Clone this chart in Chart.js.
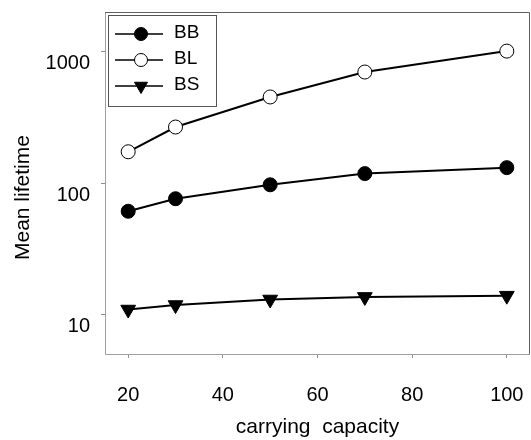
<!DOCTYPE html>
<html>
<head>
<meta charset="utf-8">
<script src="https://cdn.jsdelivr.net/npm/chart.js@4"></script>
<style>
  html, body { margin: 0; padding: 0; background: #fff; overflow: hidden; width: 531px; height: 440px; }
  #wrap { position: relative; width: 531px; height: 440px; overflow: hidden; }
  #chartVida { display: block; }
</style>
</head>
<body>
<div id="wrap"><canvas id="chartVida"></canvas></div>
<script>
// datos
const capacidad = [20, 30, 50, 70, 100];
const vidaBB = [61, 76, 97, 118, 131];
const vidaBL = [173, 267, 452, 700, 1010];
const vidaBS = [10.9, 11.8, 13.0, 13.6, 13.9];
const ticksY = [10, 100, 1000];
const ticksX = [20, 40, 60, 80, 100];

const FUENTE = '"Liberation Sans", Arial, sans-serif';

const series = [
    { label: 'BB', datos: vidaBB, relleno: '#000', estilo: 'circle', radio: 7, rot: 0 },
    { label: 'BL', datos: vidaBL, relleno: '#fff', estilo: 'circle', radio: 7, rot: 0 },
    { label: 'BS', datos: vidaBS, relleno: '#000', estilo: 'triangle', radio: 8.5, rot: 180 }
];

// sin relleno extra para las etiquetas de los extremos
function sinPadding(s) {
    s.paddingTop = 0; s.paddingBottom = 0; s.paddingLeft = 0; s.paddingRight = 0;
}

// marco del area de trazado
const marco = {
    id: 'marco',
    afterDraw(chart) {
        const { ctx, chartArea: a } = chart;
        ctx.save();
        ctx.lineWidth = 1;
        ctx.strokeStyle = '#a0a0a0';
        ctx.beginPath();
        ctx.moveTo(a.left + 0.5, a.top);
        ctx.lineTo(a.left + 0.5, a.bottom + 0.5);
        ctx.lineTo(a.right, a.bottom + 0.5);
        ctx.stroke();
        ctx.strokeStyle = '#606060';
        ctx.beginPath();
        ctx.moveTo(a.left, a.top + 0.5);
        ctx.lineTo(a.right - 0.5, a.top + 0.5);
        ctx.lineTo(a.right - 0.5, a.bottom);
        ctx.stroke();
        ctx.restore();
    }
};

// leyenda con linea y simbolo, como en la figura original
const leyenda = {
    id: 'leyenda',
    afterDraw(chart) {
        const { ctx, chartArea: a } = chart;
        const x0 = a.left + 3, y0 = a.top + 3;
        ctx.save();
        ctx.strokeStyle = '#555';
        ctx.lineWidth = 1;
        ctx.strokeRect(x0 + 0.5, y0 + 0.5, 108, 91);
        chart.data.datasets.forEach((ds, i) => {
            const y = y0 + 19 + i * 26;
            ctx.strokeStyle = '#000';
            ctx.lineWidth = 1.5;
            ctx.beginPath();
            ctx.moveTo(x0 + 7, y);
            ctx.lineTo(x0 + 55, y);
            ctx.stroke();
            ctx.fillStyle = ds.pointBackgroundColor;
            ctx.lineWidth = 1;
            Chart.helpers.drawPoint(ctx, {
                pointStyle: ds.pointStyle,
                radius: ds.pointStyle === 'triangle' ? 7.5 : 6.5,
                rotation: ds.pointRotation,
                borderWidth: 1
            }, x0 + 33, y);
            ctx.fillStyle = '#000';
            ctx.font = '19px ' + FUENTE;
            ctx.textBaseline = 'middle';
            ctx.textAlign = 'left';
            ctx.fillText(ds.label, x0 + 66, y - 1.5);
        });
        ctx.restore();
    }
};

const ctx = document.getElementById('chartVida').getContext('2d');
const chart = new Chart(ctx, {
    type: 'line',
    data: {
        datasets: series.map(s => ({
            label: s.label,
            data: capacidad.map((c, i) => ({ x: c, y: s.datos[i] })),
            borderColor: '#000',
            borderWidth: 2,
            pointStyle: s.estilo,
            pointRotation: s.rot,
            pointRadius: s.radio,
            pointHoverRadius: s.radio,
            pointBackgroundColor: s.relleno,
            pointBorderColor: '#000',
            pointBorderWidth: 1,
            tension: 0,
            fill: false
        }))
    },
    options: {
        responsive: true,
        maintainAspectRatio: false,
        animation: false,
        layout: { autoPadding: false, padding: { top: 12, right: 1, left: 0, bottom: 0 } },
        plugins: { legend: { display: false }, tooltip: { enabled: false } },
        scales: {
            x: {
                type: 'linear',
                min: 15.1,
                max: 104.9,
                afterBuildTicks: s => { s.ticks = ticksX.map(v => ({ value: v })); },
                afterFit: s => { s.height = 86; sinPadding(s); },
                border: { display: false },
                grid: { drawOnChartArea: false, tickLength: 4, tickColor: '#909090' },
                ticks: { padding: 25, color: '#000', font: { family: FUENTE, size: 20 } },
                title: {
                    display: true, text: 'carrying  capacity', color: '#000',
                    font: { family: FUENTE, size: 21 }, padding: { top: 0, bottom: 0 }
                }
            },
            y: {
                type: 'logarithmic',
                min: 5,
                max: 2004,
                afterBuildTicks: s => { s.ticks = ticksY.map(v => ({ value: v })); },
                afterFit: s => { s.width = 105; sinPadding(s); },
                border: { display: false },
                grid: { drawOnChartArea: false, tickLength: 4, tickColor: '#909090' },
                ticks: {
                    padding: 11, labelOffset: 12, color: '#000',
                    font: { family: FUENTE, size: 20 },
                    callback: v => String(v)
                },
                title: {
                    display: true, text: 'Mean lifetime     ', color: '#000',
                    font: { family: FUENTE, size: 21 }, padding: { top: 11, bottom: 0 }
                }
            }
        }
    },
    plugins: [marco, leyenda]
});
</script>
</body>
</html>
